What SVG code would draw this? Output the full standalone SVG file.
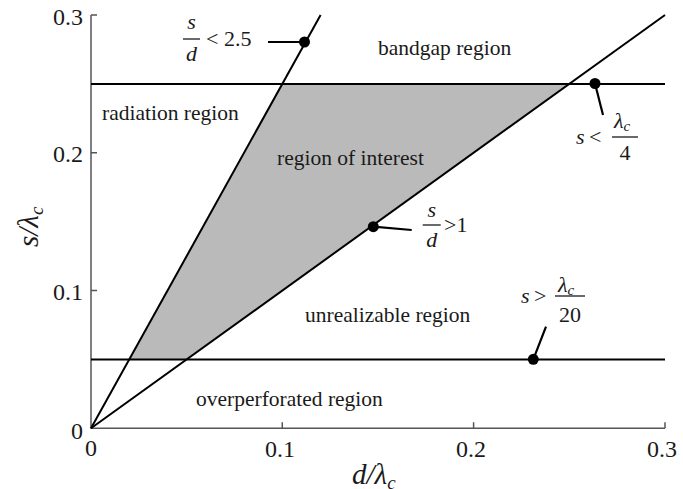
<svg xmlns="http://www.w3.org/2000/svg" width="683" height="489" viewBox="0 0 683 489">
<style>
.ax{stroke:#555;stroke-width:1.5;fill:none}
.ln{stroke:#000;stroke-width:2;fill:none}
.ld{stroke:#000;stroke-width:2.2;fill:none}
.dot{fill:#000}
.t{font-family:"Liberation Serif","Times New Roman",serif;font-size:21.5px;fill:#1a1a1a}
.m{font-family:"Liberation Serif","Times New Roman",serif;font-size:22px;fill:#1a1a1a}
.i{font-style:italic}
.sub{font-family:"Liberation Serif","Times New Roman",serif;font-size:15px;font-style:italic;fill:#1a1a1a}
.tk{font-family:"Liberation Serif","Times New Roman",serif;font-size:24px;fill:#1a1a1a}
.lab{font-family:"Liberation Serif","Times New Roman",serif;font-size:29px;font-style:italic;fill:#1a1a1a}
.lsub{font-size:19px}
.bar{stroke:#1a1a1a;stroke-width:1.3}
</style>
<rect width="683" height="489" fill="#fff"/>
<g id="region-of-interest-fill">
<polygon points="129.3,359.4 186.7,359.4 569.3,83.9 282.3,83.9" fill="#bababa"/>
</g>
<g id="axes">
<path class="ax" d="M91,15 V428.3 H665"/>
<path class="ax" d="M91,15 h6 M91,152.7 h6 M91,290.5 h6 M282.3,428.3 v-6 M473.6,428.3 v-6 M665,428.3 v-6"/>
<text class="tk" x="83" y="25" text-anchor="end">0.3</text>
<text class="tk" x="83" y="162" text-anchor="end">0.2</text>
<text class="tk" x="83" y="300" text-anchor="end">0.1</text>
<text class="tk" x="83" y="439" text-anchor="end">0</text>
<text class="tk" x="91" y="456" text-anchor="middle">0</text>
<text class="tk" x="280" y="457" text-anchor="middle">0.1</text>
<text class="tk" x="471" y="457" text-anchor="middle">0.2</text>
<text class="tk" x="662" y="457" text-anchor="middle">0.3</text>
<text class="lab" x="352" y="484">d/λ<tspan class="sub lsub" dy="5">c</tspan></text>
<text class="lab" transform="translate(38,247) rotate(-90)">s/λ<tspan class="sub lsub" dy="5">c</tspan></text>
</g>
<g id="connectors">
<path class="ln" d="M91,428.3 L320.6,15"/>
<path class="ln" d="M91,428.3 L665,15"/>
<path class="ln" d="M91,83.9 H665"/>
<path class="ln" d="M91,359.4 H665"/>
</g>
<g id="region-labels">
<text class="t" x="378" y="55">bandgap region</text>
<text class="t" x="102" y="120">radiation region</text>
<text class="t" x="277" y="165">region of interest</text>
<text class="t" x="305" y="322">unrealizable region</text>
<text class="t" x="196" y="406">overperforated region</text>
</g>
<g id="label-s-d-lt-2.5">
<path class="ld" d="M268,42 H304.5"/>
<circle class="dot" cx="304.5" cy="42" r="5.5"/>
<text class="m i" x="191.5" y="29" text-anchor="middle">s</text>
<line class="bar" x1="183" y1="39" x2="200" y2="39"/>
<text class="m i" x="191.5" y="61" text-anchor="middle">d</text>
<text class="m" x="206" y="46">&lt; 2.5</text>
</g>
<g id="label-s-lt-lambda-4">
<path class="ld" d="M595,83.5 L603,115"/>
<circle class="dot" cx="595" cy="83.5" r="5.5"/>
<text class="m i" x="576" y="144">s</text>
<text class="m" x="589" y="144">&lt;</text>
<text class="m i" x="614" y="128">λ<tspan class="sub" dy="3">c</tspan></text>
<line class="bar" x1="612" y1="137" x2="638" y2="137"/>
<text class="m" x="625" y="160" text-anchor="middle">4</text>
</g>
<g id="label-s-d-gt-1">
<path class="ld" d="M373.3,226.7 L411.7,230"/>
<circle class="dot" cx="373.3" cy="226.7" r="5.5"/>
<text class="m i" x="431.7" y="217" text-anchor="middle">s</text>
<line class="bar" x1="422.7" y1="225" x2="440.7" y2="225"/>
<text class="m i" x="431.7" y="247" text-anchor="middle">d</text>
<text class="m" x="444" y="232">&gt;1</text>
</g>
<g id="label-s-gt-lambda-20">
<path class="ld" d="M533.3,359.3 L546,326.7"/>
<circle class="dot" cx="533.3" cy="359.3" r="5.5"/>
<text class="m i" x="521" y="303">s</text>
<text class="m" x="534" y="303">&gt;</text>
<text class="m i" x="558" y="292">λ<tspan class="sub" dy="3">c</tspan></text>
<line class="bar" x1="555" y1="296" x2="585" y2="296"/>
<text class="m" x="570" y="322" text-anchor="middle">20</text>
</g>
</svg>
